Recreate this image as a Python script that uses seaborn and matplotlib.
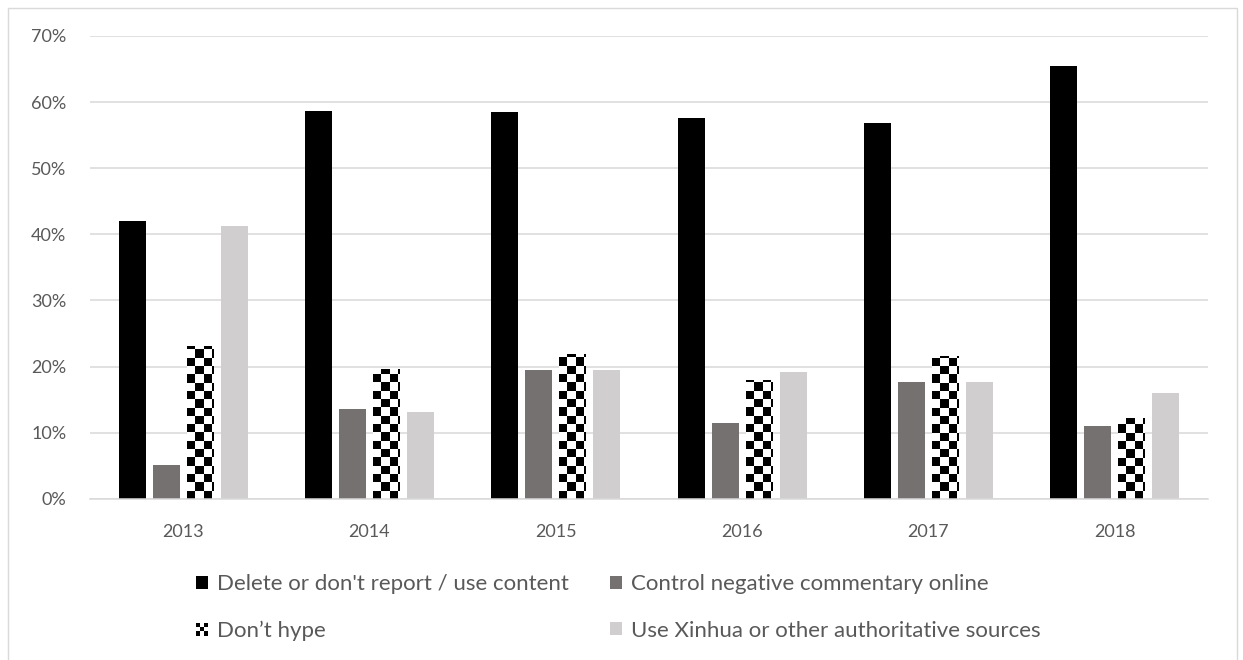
import numpy as np
import pandas as pd
import seaborn as sns
import matplotlib.pyplot as plt
from matplotlib.patches import Rectangle
from matplotlib.legend_handler import HandlerBase
from matplotlib.colors import ListedColormap

# Share of censorship directives by type and year (%)
years = ["2013", "2014", "2015", "2016", "2017", "2018"]
series = [
    "Delete or don't report / use content",
    "Control negative commentary online",
    "Don\u2019t hype",
    "Use Xinhua or other authoritative sources",
]
delete_content = [42.0, 58.65, 58.45, 57.6, 56.8, 65.45]
control_commentary = [5.1, 13.6, 19.4, 11.4, 17.6, 11.05]
dont_hype = [23.1, 19.6, 21.85, 17.95, 21.6, 12.25]
use_xinhua = [41.3, 13.1, 19.4, 19.1, 17.6, 16.0]
y_ticks = [0, 10, 20, 30, 40, 50, 60, 70]

colors = ["#000000", "#767171", "#ffffff", "#d0cece"]
text_color = "#595959"
grid_color = "#d9d9d9"

df = pd.DataFrame({
    "year": years * 4,
    "series": np.repeat(series, len(years)),
    "value": delete_content + control_commentary + dont_hype + use_xinhua,
})

sns.set_theme(style="white")
plt.rcParams["font.family"] = ["Lato", "DejaVu Sans"]

fig = plt.figure(figsize=(12.43, 6.60), dpi=100)
ax = fig.add_axes([90 / 1243, 1 - 498.7 / 660, 1118 / 1243, (498.7 - 36) / 660])

sns.barplot(data=df, x="year", y="value", hue="series", hue_order=series,
            order=years, palette=colors, saturation=1, errorbar=None,
            width=0.73, gap=0.215, linewidth=0, legend=False, ax=ax)

ax.set_ylim(0, 70)
ax.set_xlim(-0.5, len(years) - 0.5)
ax.set_yticks(y_ticks)
ax.set_yticklabels([f"{t}%" for t in y_ticks])
ax.set_xlabel("")
ax.set_ylabel("")
ax.yaxis.grid(True, color=grid_color, linewidth=1.1)
ax.set_axisbelow(True)
for side in ["left", "right", "top"]:
    ax.spines[side].set_visible(False)
ax.spines["bottom"].set_color(grid_color)
ax.spines["bottom"].set_linewidth(1.1)
ax.tick_params(axis="both", length=0, colors=text_color, labelsize=13)
ax.tick_params(axis="y", pad=17)
ax.tick_params(axis="x", pad=18)

# Checkerboard fill for the "Don't hype" bars, clipped to each bar
checker_cmap = ListedColormap(["#ffffff", "#000000"])
cell_px = 8.3
fig.canvas.draw()
to_px = ax.transData
for bar in ax.containers[2]:
    x0, y0 = bar.get_x(), bar.get_y()
    w, h = bar.get_width(), bar.get_height()
    (px0, py0) = to_px.transform((x0, y0))
    (px1, py1) = to_px.transform((x0 + w, y0 + h))
    ncols = int(np.ceil((px1 - px0) / cell_px))
    nrows = int(np.ceil((py1 - py0) / cell_px))
    cw = w * cell_px / (px1 - px0)
    ch = h * cell_px / (py1 - py0)
    grid = (np.add.outer(np.arange(nrows), np.arange(ncols)) % 2 == 0).astype(int)
    im = ax.imshow(grid, cmap=checker_cmap, origin="lower", interpolation="nearest",
                   extent=(x0, x0 + ncols * cw, y0, y0 + nrows * ch),
                   aspect="auto", zorder=bar.get_zorder() + 0.1, vmin=0, vmax=1)
    im.set_clip_path(bar)
ax.set_xlim(-0.5, len(years) - 0.5)
ax.set_ylim(0, 70)


class CheckerHandler(HandlerBase):
    def create_artists(self, legend, orig_handle, xdescent, ydescent,
                       width, height, fontsize, trans):
        n = 3
        cw, ch = width / n, height / n
        arts = []
        for i in range(n):
            for j in range(n):
                fc = "#000000" if (i + j) % 2 == 0 else "#ffffff"
                arts.append(Rectangle((-xdescent + j * cw, -ydescent + i * ch),
                                      cw, ch, facecolor=fc, edgecolor="none",
                                      transform=trans))
        return arts


handles = [Rectangle((0, 0), 1, 1, facecolor=c, edgecolor="none") for c in colors]
# Two columns filled row by row
order = [0, 2, 1, 3]
fig.legend([handles[i] for i in order], [series[i] for i in order],
           loc="upper left", bbox_to_anchor=(196 / 1243, 1 - 574 / 660),
           ncol=2, frameon=False, fontsize=16, labelcolor=text_color,
           handlelength=0.54, handleheight=0.54, handletextpad=0.4,
           columnspacing=1.85, labelspacing=1.2, borderpad=0, borderaxespad=0,
           handler_map={handles[2]: CheckerHandler()})

# Light frame around the chart area
fig.patches.append(Rectangle((8 / 1243, -0.05), 1229 / 1243, 1.05 - 8 / 660,
                             transform=fig.transFigure, fill=False,
                             edgecolor=grid_color, linewidth=1.0))

fig.savefig("out.png", dpi=100, facecolor="white")
